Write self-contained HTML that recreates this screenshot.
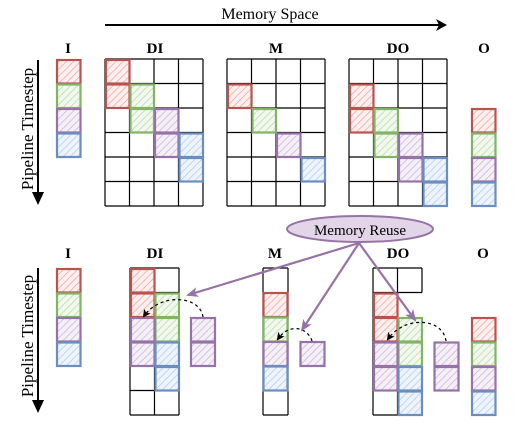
<!DOCTYPE html>
<html><head><style>body{margin:0;background:#fff}svg{display:block}</style></head><body>
<svg width="516" height="433" viewBox="0 0 516 433" xmlns="http://www.w3.org/2000/svg" font-family="Liberation Serif, serif">
<defs>
<pattern id="hr" width="5" height="5" patternUnits="userSpaceOnUse" patternTransform="rotate(45)"><rect width="5" height="5" fill="#fdf0ef"/><line x1="0" y1="0" x2="0" y2="5" stroke="#f0a8a5" stroke-width="1.6"/></pattern>
<pattern id="hg" width="5" height="5" patternUnits="userSpaceOnUse" patternTransform="rotate(45)"><rect width="5" height="5" fill="#f2f8ee"/><line x1="0" y1="0" x2="0" y2="5" stroke="#bcdcae" stroke-width="1.6"/></pattern>
<pattern id="hp" width="5" height="5" patternUnits="userSpaceOnUse" patternTransform="rotate(45)"><rect width="5" height="5" fill="#f5f0f7"/><line x1="0" y1="0" x2="0" y2="5" stroke="#cdb8d8" stroke-width="1.6"/></pattern>
<pattern id="hb" width="5" height="5" patternUnits="userSpaceOnUse" patternTransform="rotate(45)"><rect width="5" height="5" fill="#eef4fc"/><line x1="0" y1="0" x2="0" y2="5" stroke="#b5cdef" stroke-width="1.6"/></pattern>
<marker id="ap" markerWidth="12" markerHeight="10" refX="10" refY="5" orient="auto" markerUnits="userSpaceOnUse"><path d="M0,0 L12,5 L0,10 L3,5z" fill="#9673a6"/></marker>
<marker id="ad" markerWidth="8" markerHeight="8" refX="6" refY="4" orient="auto" markerUnits="userSpaceOnUse"><path d="M0,0 L8,4 L0,8 L2,4z" fill="#000"/></marker>
</defs>

<text x="270" y="19" font-size="16" text-anchor="middle">Memory Space</text>
<line x1="105" y1="25" x2="440" y2="25" stroke="#000" stroke-width="2"/>
<path d="M436,19 L447,25 L436,31 L439,25z" fill="#000"/>

<g font-weight="bold" font-size="15" text-anchor="middle">
<text x="68" y="53">I</text><text x="155" y="53">DI</text><text x="276" y="53">M</text><text x="398" y="53">DO</text><text x="484" y="53">O</text>
<text x="68" y="258">I</text><text x="155" y="258">DI</text><text x="275" y="258">M</text><text x="398" y="258">DO</text><text x="483" y="258">O</text>
</g>

<g font-size="17">
<text transform="translate(33,129) rotate(-90)" text-anchor="middle">Pipeline Timestep</text>
<text transform="translate(33,336) rotate(-90)" text-anchor="middle">Pipeline Timestep</text>
</g>
<line x1="38" y1="60" x2="38" y2="196" stroke="#000" stroke-width="2"/><path d="M32,192 L38,205 L44,192z" fill="#000"/>
<line x1="38" y1="268" x2="38" y2="404" stroke="#000" stroke-width="2"/><path d="M32,400 L38,413 L44,400z" fill="#000"/>

<g fill="none" stroke="#000" stroke-width="1.2">
<path d="M105,59H203M105,83.5H203M105,108H203M105,132.5H203M105,157H203M105,181.5H203M105,206H203M105,59V206M129.5,59V206M154,59V206M178.5,59V206M203,59V206"/>
<path d="M227,59H325M227,83.5H325M227,108H325M227,132.5H325M227,157H325M227,181.5H325M227,206H325M227,59V206M251.5,59V206M276,59V206M300.5,59V206M325,59V206"/>
<path d="M349,59H447M349,83.5H447M349,108H447M349,132.5H447M349,157H447M349,181.5H447M349,206H447M349,59V206M373.5,59V206M398,59V206M422.5,59V206M447,59V206"/>
<path d="M130,268H179M130,292.5H179M130,317H179M130,341.5H179M130,366H179M130,390.5H179M130,415H179M130,268V415M154.5,268V415M179,268V415"/>
<path d="M263,268H288M263,415H288M263,268V415M288,268V415"/>
<path d="M373,268H422M373,292.5H422M373,390.5H422M373,415H422M373,268V415M397.5,268V415M422,268V292.5"/>
</g>

<g stroke-width="2.2">
<rect x="57" y="60" width="23.5" height="23.5" fill="url(#hr)" stroke="#b85450"/>
<rect x="57" y="84.5" width="23.5" height="23.5" fill="url(#hg)" stroke="#82b366"/>
<rect x="57" y="109" width="23.5" height="23.5" fill="url(#hp)" stroke="#9673a6"/>
<rect x="57" y="133.5" width="23.5" height="23.5" fill="url(#hb)" stroke="#6c8ebf"/>
<rect x="106" y="60" width="23.5" height="23.5" fill="url(#hr)" stroke="#b85450"/>
<rect x="106" y="84.5" width="23.5" height="23.5" fill="url(#hr)" stroke="#b85450"/>
<rect x="130.5" y="84.5" width="23.5" height="23.5" fill="url(#hg)" stroke="#82b366"/>
<rect x="130.5" y="109" width="23.5" height="23.5" fill="url(#hg)" stroke="#82b366"/>
<rect x="155" y="109" width="23.5" height="23.5" fill="url(#hp)" stroke="#9673a6"/>
<rect x="155" y="133.5" width="23.5" height="23.5" fill="url(#hp)" stroke="#9673a6"/>
<rect x="179.5" y="133.5" width="23.5" height="23.5" fill="url(#hb)" stroke="#6c8ebf"/>
<rect x="179.5" y="158" width="23.5" height="23.5" fill="url(#hb)" stroke="#6c8ebf"/>
<rect x="228" y="84.5" width="23.5" height="23.5" fill="url(#hr)" stroke="#b85450"/>
<rect x="252.5" y="109" width="23.5" height="23.5" fill="url(#hg)" stroke="#82b366"/>
<rect x="277" y="133.5" width="23.5" height="23.5" fill="url(#hp)" stroke="#9673a6"/>
<rect x="301.5" y="158" width="23.5" height="23.5" fill="url(#hb)" stroke="#6c8ebf"/>
<rect x="350" y="84.5" width="23.5" height="23.5" fill="url(#hr)" stroke="#b85450"/>
<rect x="350" y="109" width="23.5" height="23.5" fill="url(#hr)" stroke="#b85450"/>
<rect x="374.5" y="109" width="23.5" height="23.5" fill="url(#hg)" stroke="#82b366"/>
<rect x="374.5" y="133.5" width="23.5" height="23.5" fill="url(#hg)" stroke="#82b366"/>
<rect x="399" y="133.5" width="23.5" height="23.5" fill="url(#hp)" stroke="#9673a6"/>
<rect x="399" y="158" width="23.5" height="23.5" fill="url(#hp)" stroke="#9673a6"/>
<rect x="423.5" y="158" width="23.5" height="23.5" fill="url(#hb)" stroke="#6c8ebf"/>
<rect x="423.5" y="182.5" width="23.5" height="23.5" fill="url(#hb)" stroke="#6c8ebf"/>
<rect x="472" y="109" width="23.5" height="23.5" fill="url(#hr)" stroke="#b85450"/>
<rect x="472" y="133.5" width="23.5" height="23.5" fill="url(#hg)" stroke="#82b366"/>
<rect x="472" y="158" width="23.5" height="23.5" fill="url(#hp)" stroke="#9673a6"/>
<rect x="472" y="182.5" width="23.5" height="23.5" fill="url(#hb)" stroke="#6c8ebf"/>

<rect x="57" y="269" width="23.5" height="23.5" fill="url(#hr)" stroke="#b85450"/>
<rect x="57" y="293.5" width="23.5" height="23.5" fill="url(#hg)" stroke="#82b366"/>
<rect x="57" y="318" width="23.5" height="23.5" fill="url(#hp)" stroke="#9673a6"/>
<rect x="57" y="342.5" width="23.5" height="23.5" fill="url(#hb)" stroke="#6c8ebf"/>
<rect x="131" y="269" width="23.5" height="23.5" fill="url(#hr)" stroke="#b85450"/>
<rect x="131" y="293.5" width="23.5" height="23.5" fill="url(#hr)" stroke="#b85450"/>
<rect x="155.5" y="293.5" width="23.5" height="23.5" fill="url(#hg)" stroke="#82b366"/>
<rect x="155.5" y="318" width="23.5" height="23.5" fill="url(#hg)" stroke="#82b366"/>
<rect x="131" y="318" width="23.5" height="23.5" fill="url(#hp)" stroke="#9673a6"/>
<rect x="131" y="342.5" width="23.5" height="23.5" fill="url(#hp)" stroke="#9673a6"/>
<rect x="155.5" y="342.5" width="23.5" height="23.5" fill="url(#hb)" stroke="#6c8ebf"/>
<rect x="155.5" y="367" width="23.5" height="23.5" fill="url(#hb)" stroke="#6c8ebf"/>
<rect x="191" y="318" width="24" height="23.5" fill="url(#hp)" stroke="#9673a6"/>
<rect x="191" y="342.5" width="24" height="23.5" fill="url(#hp)" stroke="#9673a6"/>
<rect x="263.5" y="293" width="24" height="24" fill="url(#hr)" stroke="#b85450"/>
<rect x="263.5" y="317.5" width="24" height="24" fill="url(#hg)" stroke="#82b366"/>
<rect x="263.5" y="342" width="24" height="24" fill="url(#hp)" stroke="#9673a6"/>
<rect x="263.5" y="366.5" width="24" height="24" fill="url(#hb)" stroke="#6c8ebf"/>
<rect x="300.5" y="342" width="24" height="24" fill="url(#hp)" stroke="#9673a6"/>
<rect x="374" y="293.5" width="23.5" height="23.5" fill="url(#hr)" stroke="#b85450"/>
<rect x="374" y="318" width="23.5" height="23.5" fill="url(#hr)" stroke="#b85450"/>
<rect x="398.5" y="318" width="23.5" height="23.5" fill="url(#hg)" stroke="#82b366"/>
<rect x="398.5" y="342.5" width="23.5" height="23.5" fill="url(#hg)" stroke="#82b366"/>
<rect x="374" y="342.5" width="23.5" height="23.5" fill="url(#hp)" stroke="#9673a6"/>
<rect x="374" y="367" width="23.5" height="23.5" fill="url(#hp)" stroke="#9673a6"/>
<rect x="398.5" y="367" width="23.5" height="23.5" fill="url(#hb)" stroke="#6c8ebf"/>
<rect x="398.5" y="391.5" width="23.5" height="23.5" fill="url(#hb)" stroke="#6c8ebf"/>
<rect x="434.5" y="342.5" width="24" height="23.5" fill="url(#hp)" stroke="#9673a6"/>
<rect x="434.5" y="367" width="24" height="23.5" fill="url(#hp)" stroke="#9673a6"/>
<rect x="472" y="318" width="23.5" height="23.5" fill="url(#hr)" stroke="#b85450"/>
<rect x="472" y="342.5" width="23.5" height="23.5" fill="url(#hg)" stroke="#82b366"/>
<rect x="472" y="367" width="23.5" height="23.5" fill="url(#hp)" stroke="#9673a6"/>
<rect x="472" y="391.5" width="23.5" height="23.5" fill="url(#hb)" stroke="#6c8ebf"/>
</g>

<g fill="none" stroke="#000" stroke-width="1.2" stroke-dasharray="3,3">
<path d="M203,317 C200,295 160,293 144,316" marker-end="url(#ad)"/>
<path d="M312,341 C308,328 290,322 278,339" marker-end="url(#ad)"/>
<path d="M446,341 C443,318 405,315 388,339" marker-end="url(#ad)"/>
</g>

<g stroke="#9673a6" stroke-width="2.2" fill="none">
<line x1="359" y1="243" x2="188" y2="295" marker-end="url(#ap)"/>
<line x1="359" y1="243" x2="302" y2="330" marker-end="url(#ap)"/>
<line x1="359" y1="243" x2="415" y2="320" marker-end="url(#ap)"/>
</g>
<ellipse cx="360" cy="229" rx="73" ry="13" fill="#e1d5e7" stroke="#9673a6" stroke-width="2"/>
<text x="360" y="235" font-size="15" text-anchor="middle">Memory Reuse</text>
</svg>
</body></html>
